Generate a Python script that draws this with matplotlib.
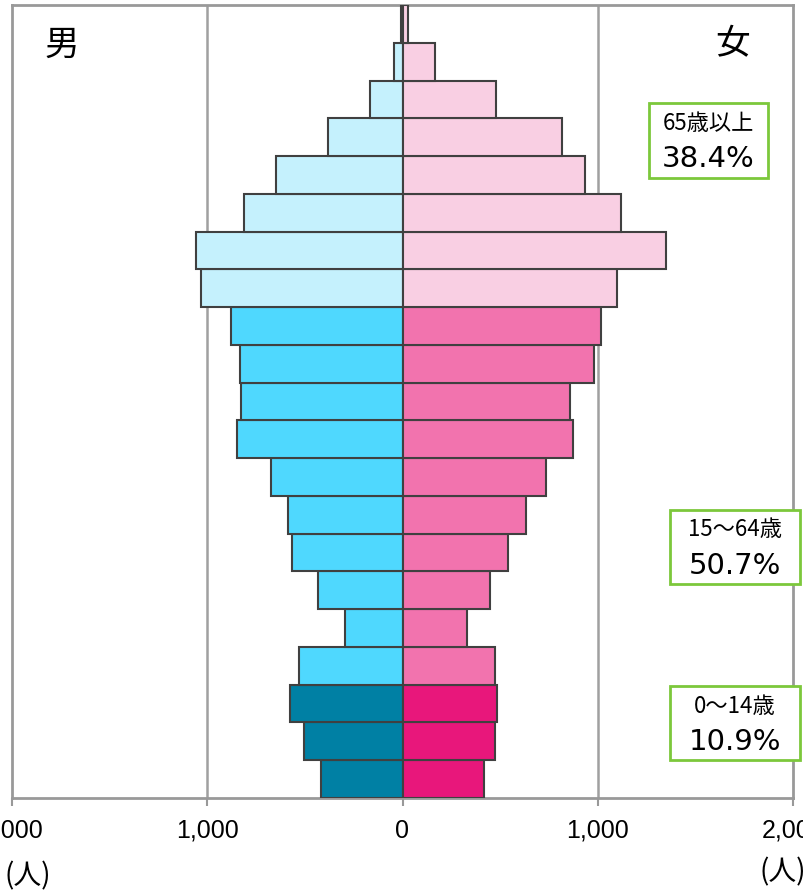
import matplotlib
matplotlib.use("Agg")
import matplotlib.pyplot as plt
from matplotlib.patches import Rectangle
import numpy as np

ages = ["0-4", "5-9", "10-14", "15-19", "20-24", "25-29", "30-34", "35-39", "40-44",
        "45-49", "50-54", "55-59", "60-64", "65-69", "70-74", "75-79", "80-84",
        "85-89", "90-94", "95-99", "100+"]
male = [417, 504, 577, 528, 292, 432, 564, 585, 672, 850, 826, 833, 879,
        1031, 1058, 814, 646, 380, 164, 41, 7]
female = [415, 472, 484, 474, 328, 450, 542, 634, 733, 872, 860, 979, 1018,
          1097, 1352, 1120, 937, 815, 477, 165, 27]
group_labels = ["0〜14歳", "15〜64歳", "65歳以上"]
group_pcts = ["10.9%", "50.7%", "38.4%"]
xticks = [-2000, -1000, 0, 1000, 2000]
xticklabels = ["2,000", "1,000", "0", "1,000", "2,000"]

male_colors = {"young": "#0080a4", "work": "#4fd8fe", "old": "#c5f1fd"}
female_colors = {"young": "#e8177b", "work": "#f273ae", "old": "#f9cfe3"}

def group_of(i):
    if i < 3:
        return "young"
    if i < 13:
        return "work"
    return "old"

CJK = ['Noto Sans CJK JP', 'DejaVu Sans']

W, H = 804, 896
fig = plt.figure(figsize=(W / 100, H / 100), dpi=100)
ax = fig.add_axes([12 / W, 1 - 798 / H, (793 - 12) / W, (798 - 5) / H])

y = np.arange(len(ages))
mc = [male_colors[group_of(i)] for i in y]
fc = [female_colors[group_of(i)] for i in y]
ax.barh(y, [-v for v in male], height=1.0, color=mc, edgecolor="#404040", linewidth=1.5, zorder=3)
ax.barh(y, female, height=1.0, color=fc, edgecolor="#404040", linewidth=1.5, zorder=3)

ax.set_xlim(-2000, 2000)
ax.set_ylim(-0.5, len(ages) - 0.5)
ax.set_yticks([])
ax.set_xticks(xticks)
ax.set_xticklabels(xticklabels, family=['Liberation Sans'], fontsize=18)
ax.tick_params(axis='x', length=6, width=1.5, color="#999999", pad=9)
ax.set_axisbelow(True)
for xv in [-1000, 1000]:
    ax.axvline(xv, color="#a0a0a0", linewidth=1.8, zorder=1)
for s in ax.spines.values():
    s.set_color("#999999")
    s.set_linewidth(2)

def fx(px):
    return px / W

def fy(py):
    return 1 - py / H

fig.text(fx(62), fy(45), "男", family=CJK, fontsize=25, ha="center", va="center")
fig.text(fx(733), fy(45), "女", family=CJK, fontsize=25, ha="center", va="center")
fig.text(fx(28), fy(876), "(人)", family=CJK, fontsize=20, ha="center", va="center")
fig.text(fx(783), fy(872), "(人)", family=CJK, fontsize=20, ha="center", va="center")

boxes = [  # (x0, y0, x1, y1) in pixels for young, work, old
    (670, 686, 800, 760),
    (670, 510, 800, 584),
    (649, 103, 768, 178),
]
for (x0, y0, x1, y1), lab, pct in zip(boxes, group_labels, group_pcts):
    fig.patches.append(Rectangle((fx(x0), fy(y1)), fx(x1) - fx(x0), fy(y0) - fy(y1),
                                 transform=fig.transFigure, facecolor="white",
                                 edgecolor="#7cc83b", linewidth=2, zorder=5))
    cx = (x0 + x1) / 2
    fig.text(fx(cx), fy(y0 + 20), lab, family=CJK, fontsize=16, ha="center", va="center", zorder=6)
    fig.text(fx(cx), fy(y0 + 56), pct, family=['DejaVu Sans'], fontsize=21, ha="center", va="center", zorder=6)

fig.savefig("out.png", dpi=100)
